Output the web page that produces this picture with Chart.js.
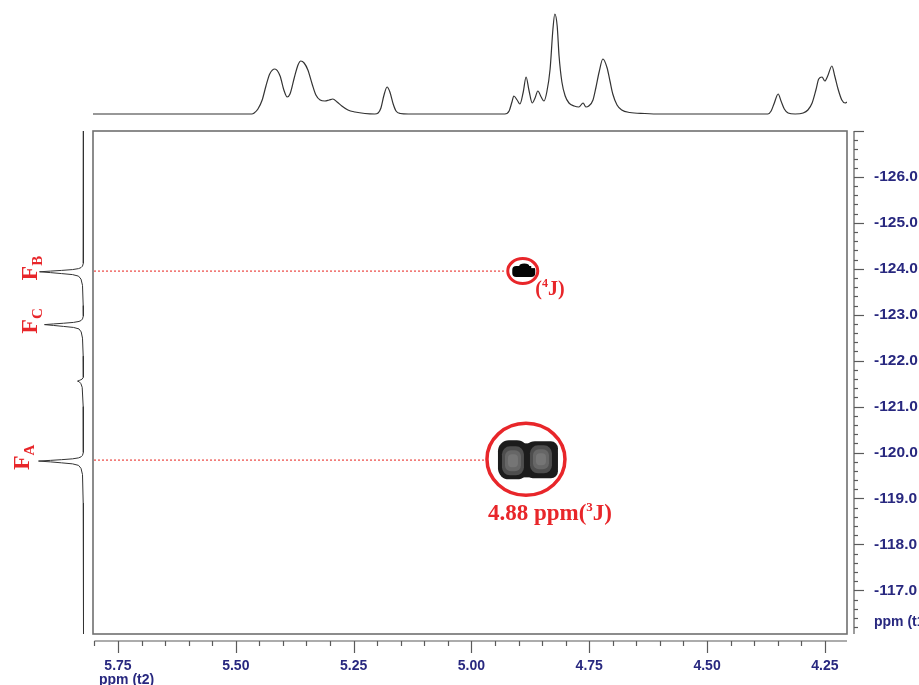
<!DOCTYPE html>
<html>
<head>
<meta charset="utf-8">
<script src="https://cdn.jsdelivr.net/npm/chart.js@4.4.1/dist/chart.umd.min.js"></script>
<style>
  html, body { margin: 0; padding: 0; background: #fff; }
  #wrap { position: relative; width: 919px; height: 685px; overflow: hidden; background: #fff; }
  #wrap canvas { position: absolute; }
  #top  { left: 0; top: 0; width: 919px; height: 131px; }
  #side { left: 0; top: 131px; width: 93px; height: 503px; }
  #main { left: 0; top: 0; width: 919px; height: 685px; }
</style>
</head>
<body>
<div id="wrap">
  <canvas id="top" width="919" height="131"></canvas>
  <canvas id="side" width="93" height="503"></canvas>
  <canvas id="main" width="919" height="685"></canvas>
</div>
<script>
// ---- 1H projection (t2 axis): chemical shift (ppm) and intensity ----
const t2Ppm = [5.803, 5.466, 5.461, 5.453, 5.444, 5.436, 5.428, 5.417, 5.406, 5.398, 5.391, 5.385, 5.376, 5.368,
  5.362, 5.355, 5.347, 5.338, 5.330, 5.321, 5.311, 5.302, 5.294, 5.285, 5.275, 5.262, 5.247, 5.226, 5.205,
  5.198, 5.192, 5.186, 5.179, 5.173, 5.166, 5.160, 5.151, 5.134, 4.929,
  4.920, 4.914, 4.910, 4.903, 4.897, 4.890, 4.884, 4.878, 4.871, 4.865, 4.859, 4.852, 4.846, 4.840, 4.833,
  4.827, 4.823, 4.818, 4.814, 4.808, 4.801, 4.793, 4.782, 4.772, 4.763, 4.757, 4.751, 4.742, 4.736, 4.729,
  4.721, 4.712, 4.706, 4.700, 4.691, 4.681, 4.664, 4.632, 4.600, 4.371,
  4.364, 4.358, 4.349, 4.343, 4.336, 4.328, 4.313, 4.296, 4.286, 4.277, 4.269, 4.263, 4.256, 4.250, 4.244,
  4.235, 4.229, 4.222, 4.214, 4.207, 4.203];
const t2Int = [0, 0, 1, 5, 14, 28, 40, 45, 38, 24, 17, 20, 36, 49,
  53, 51, 44, 30, 19, 14, 13, 14, 15, 12, 8, 4, 2, 0.5, 0,
  1, 6, 18, 27, 22, 10, 3, 0.5, 0, 0,
  3, 12, 18, 14, 10, 22, 37, 24, 11, 16, 23, 17, 13, 22, 45,
  85, 100, 88, 58, 32, 18, 11, 8, 7, 11, 7, 8, 14, 26, 42,
  55, 46, 33, 20, 9, 4, 1.5, 0.5, 0, 0,
  3, 10, 20, 13, 5, 1, 0, 1, 4, 11, 24, 35, 37, 33, 38,
  48, 38, 25, 14, 11, 12];

// ---- 19F projection (t1 axis): chemical shift (ppm) and intensity ----
const t1Ppm = [-127.00,
  -124.26, -124.124, -124.059, -124.026, -124.004, -123.983, -123.965, -123.95, -123.935, -123.917, -123.896, -123.874, -123.841, -123.776, -123.64,
  -123.20, -123.11, -122.974, -122.909, -122.876, -122.854, -122.833, -122.815, -122.80, -122.785, -122.767, -122.746, -122.724, -122.691, -122.626, -122.49,
  -122.10, -121.72, -121.64, -121.60, -121.585, -121.57, -121.555, -121.54, -121.50, -121.42,
  -121.00, -120.14, -120.004, -119.939, -119.906, -119.884, -119.863, -119.845, -119.83, -119.815, -119.797, -119.776, -119.754, -119.721, -119.656, -119.52,
  -118.90, -116.05];
const t1Int = [0,
  0, 0.3, 1, 2.5, 5, 11, 22, 33, 44, 33, 22, 11, 5, 2.5, 1, 0.3,
  0, 0.3, 1, 2.3, 4.5, 10, 20, 30, 39, 30, 20, 10, 4.5, 2.3, 1, 0.3,
  0, 0.3, 1.3, 2.6, 4.2, 6, 4.2, 2.6, 1.3, 0.3,
  0, 0.3, 1, 2.5, 5, 11, 22, 33, 45, 33, 22, 11, 5, 2.5, 1, 0.3,
  0, 0];

// ---- fluorine signals ----
const fNames = ['A', 'B', 'C'];
const fShift = [-119.83, -123.95, -122.80];

// ---- HOESY cross peaks (t2 / t1 in ppm) and their coupling path ----
const crossT2 = [4.88, 4.89];
const crossT1 = [-119.83, -123.95];
const crossBonds = ['3', '4'];

// ---- axis ticks ----
const t2Ticks = [5.75, 5.50, 5.25, 5.00, 4.75, 4.50, 4.25];
const t1Ticks = [-126, -125, -124, -123, -122, -121, -120, -119, -118, -117];

const T2_MIN = 4.203, T2_MAX = 5.803;
const T1_MIN = -127.0, T1_MAX = -116.05;
const T1_UNIT_AT = -116.31;      // where the "ppm (t1)" caption sits on the F1 scale

const NAVY = '#28287f';
const RED = '#e8262a';
const SERIF = '"Liberation Serif", "Times New Roman", serif';
const SANS = '"Liberation Sans", Arial, sans-serif';

const hidden = { display: false };

// ---------- top 1D projection ----------
new Chart(document.getElementById('top'), {
  type: 'scatter',
  data: {
    datasets: [{
      data: t2Ppm.map((p, i) => ({ x: p, y: t2Int[i] })),
      showLine: true, pointRadius: 0, borderColor: '#333333', borderWidth: 1.2,
      cubicInterpolationMode: 'monotone', tension: 0.4
    }]
  },
  options: {
    responsive: false, animation: false, devicePixelRatio: 1,
    layout: { padding: { left: 93, right: 72, top: 0, bottom: 0 } },
    plugins: { legend: hidden, tooltip: { enabled: false } },
    scales: {
      x: { type: 'linear', reverse: true, min: T2_MIN, max: T2_MAX, display: false },
      y: { type: 'linear', min: -17, max: 114, display: false }
    }
  }
});

// ---------- side 1D projection with fluorine labels ----------
function richText(ctx, parts, x, y) {
  let cx = x;
  for (const p of parts) {
    ctx.font = `bold ${p.size}px ${SERIF}`;
    ctx.fillText(p.t, cx, y + (p.dy || 0));
    cx += ctx.measureText(p.t).width;
  }
  return cx - x;
}
function richWidth(ctx, parts) {
  let w = 0;
  for (const p of parts) { ctx.font = `bold ${p.size}px ${SERIF}`; w += ctx.measureText(p.t).width; }
  return w;
}

const fLabelPlugin = {
  id: 'fLabels',
  afterDraw(chart) {
    const ctx = chart.ctx, y = chart.scales.y;
    const baseX = { A: 29, B: 37, C: 37 };
    ctx.save();
    ctx.fillStyle = RED;
    ctx.textBaseline = 'alphabetic';
    fNames.forEach((n, i) => {
      const parts = [{ t: 'F', size: 24 }, { t: n, size: 15, dy: 5 }];
      const w = richWidth(ctx, parts);
      const py = y.getPixelForValue(fShift[i]) - 3;
      ctx.save();
      ctx.translate(baseX[n], py + w / 2);
      ctx.rotate(-Math.PI / 2);
      richText(ctx, parts, 0, 0);
      ctx.restore();
    });
    ctx.restore();
  }
};

new Chart(document.getElementById('side'), {
  type: 'scatter',
  data: {
    datasets: [{
      data: t1Ppm.map((p, i) => ({ x: t1Int[i], y: p })),
      showLine: true, pointRadius: 0, borderColor: '#333333', borderWidth: 1, tension: 0
    }]
  },
  options: {
    responsive: false, animation: false, devicePixelRatio: 1,
    layout: { padding: 0 },
    plugins: { legend: hidden, tooltip: { enabled: false } },
    scales: {
      x: { type: 'linear', reverse: true, min: -9.5, max: 83.5, display: false },
      y: { type: 'linear', reverse: true, min: T1_MIN, max: T1_MAX, display: false }
    }
  },
  plugins: [fLabelPlugin]
});

// ---------- main 2D panel ----------
const framePlugin = {
  id: 'frame',
  afterDraw(chart) {
    const { ctx, chartArea: a, scales: { x, y } } = chart;
    ctx.save();
    // plot box
    ctx.strokeStyle = '#707070';
    ctx.lineWidth = 1.6;
    ctx.strokeRect(a.left, a.top, a.right - a.left, a.bottom - a.top);

    ctx.strokeStyle = '#5a5a5a';
    ctx.lineWidth = 1.2;
    const seg = (x1, y1, x2, y2) => { ctx.beginPath(); ctx.moveTo(x1, y1); ctx.lineTo(x2, y2); ctx.stroke(); };

    // F2 axis with 0.05 ppm minor ticks
    const ay = a.bottom + 7;
    seg(x.getPixelForValue(5.80), ay, a.right, ay);
    for (let k = 580; k >= 425; k -= 5) {
      const px = Math.round(x.getPixelForValue(k / 100)) + 0.5;
      seg(px, ay, px, ay + (k % 25 === 0 ? 12 : 5));
    }
    // F1 axis with 0.2 ppm minor ticks
    const ax = a.right + 7;
    seg(ax, a.top, ax, a.bottom);
    for (let k = -1270; k <= -1162; k += 2) {
      const py = Math.round(y.getPixelForValue(k / 10)) + 0.5;
      seg(ax, py, ax + (k % 10 === 0 ? 10 : 4), py);
    }
    // F2 axis caption
    ctx.fillStyle = NAVY;
    ctx.font = `bold 14px ${SANS}`;
    ctx.textBaseline = 'middle';
    ctx.textAlign = 'left';
    ctx.fillText('ppm (t2)', x.getPixelForValue(5.75) - 19, 680);
    ctx.restore();
  }
};

function bigPeak(ctx, cx, cy) {
  ctx.fillStyle = '#1c1c1c';
  ctx.beginPath(); ctx.roundRect(cx - 30, cy - 20, 30, 39, 11); ctx.fill();
  ctx.beginPath(); ctx.roundRect(cx - 4, cy - 19, 34, 37, [11, 7, 7, 11]); ctx.fill();
  ctx.fillRect(cx - 8, cy - 17, 12, 34);
  // lighter inner lobes
  ctx.fillStyle = '#4e4e4e';
  ctx.beginPath(); ctx.roundRect(cx - 26, cy - 14, 22, 29, 8); ctx.fill();
  ctx.beginPath(); ctx.roundRect(cx + 2, cy - 15, 22, 28, 8); ctx.fill();
  ctx.fillStyle = '#666666';
  ctx.beginPath(); ctx.roundRect(cx - 23, cy - 10, 16, 21, 6); ctx.fill();
  ctx.beginPath(); ctx.roundRect(cx + 5, cy - 11, 16, 20, 6); ctx.fill();
  ctx.fillStyle = '#757575';
  ctx.beginPath(); ctx.roundRect(cx - 20, cy - 6, 10, 13, 4); ctx.fill();
  ctx.beginPath(); ctx.roundRect(cx + 8, cy - 7, 10, 12, 4); ctx.fill();
}
function smallPeak(ctx, cx, cy) {
  ctx.fillStyle = '#050505';
  ctx.beginPath(); ctx.roundRect(cx - 11, cy - 5, 23, 11, 4); ctx.fill();
  ctx.beginPath(); ctx.ellipse(cx + 1, cy - 5, 5, 2.5, 0, 0, Math.PI * 2); ctx.fill();
  ctx.fillStyle = '#ffffff';
  ctx.fillRect(cx + 8, cy - 6, 5, 3);
}

const crossPeakPlugin = {
  id: 'crossPeaks',
  afterDatasetsDraw(chart) {
    const { ctx, chartArea: a, scales: { x, y } } = chart;
    const ring = [{ dx: -2, dy: -1, rx: 39, ry: 36, lw: 3.5 }, { dx: -0.5, dy: 0, rx: 15, ry: 12.5, lw: 3 }];
    ctx.save();
    crossT2.forEach((t2, i) => {
      const cx = x.getPixelForValue(t2), cy = y.getPixelForValue(crossT1[i]);
      const r = ring[i];
      // dotted guide from the F1 projection, pixel-aligned red dashes
      ctx.fillStyle = '#ec4540';
      const gy = Math.round(cy) - 0.5;
      const end = cx + r.dx - r.rx;
      for (let gx = Math.ceil(a.left) + 1; gx + 2 <= end; gx += 4) ctx.fillRect(gx, gy, 2, 1.2);
      if (i === 0) bigPeak(ctx, cx, cy); else smallPeak(ctx, cx, cy);
      ctx.strokeStyle = RED;
      ctx.lineWidth = r.lw;
      ctx.beginPath();
      ctx.ellipse(cx + r.dx, cy + r.dy, r.rx, r.ry, 0, 0, Math.PI * 2);
      ctx.stroke();
    });
    // annotations
    ctx.fillStyle = RED;
    ctx.textBaseline = 'alphabetic';
    const c0x = x.getPixelForValue(crossT2[0]), c0y = y.getPixelForValue(crossT1[0]);
    richText(ctx, [
      { t: crossT2[0].toFixed(2) + ' ppm(', size: 23 },
      { t: crossBonds[0], size: 13, dy: -9 },
      { t: 'J)', size: 23 }
    ], c0x - 40, c0y + 60);
    const c1x = x.getPixelForValue(crossT2[1]), c1y = y.getPixelForValue(crossT1[1]);
    richText(ctx, [
      { t: '(', size: 20 },
      { t: crossBonds[1], size: 12, dy: -8 },
      { t: 'J)', size: 20 }
    ], c1x + 12, c1y + 24);
    ctx.restore();
  }
};

new Chart(document.getElementById('main'), {
  type: 'scatter',
  data: {
    datasets: [{
      data: crossT2.map((v, i) => ({ x: v, y: crossT1[i] })),
      pointRadius: 0
    }]
  },
  options: {
    responsive: false, animation: false, devicePixelRatio: 1,
    layout: { padding: { left: 93, top: 131, right: 0, bottom: 0 } },
    plugins: { legend: hidden, tooltip: { enabled: false } },
    scales: {
      x: {
        type: 'linear', position: 'bottom', reverse: true, min: T2_MIN, max: T2_MAX,
        afterBuildTicks: s => { s.ticks = t2Ticks.map(v => ({ value: v })); },
        afterFit: s => { s.height = 51; },
        grid: { display: false, drawTicks: false }, border: { display: false },
        ticks: {
          padding: 24, color: NAVY, autoSkip: false, maxRotation: 0,
          font: { family: SANS, weight: 'bold', size: 14 },
          callback: v => Number(v).toFixed(2)
        }
      },
      y: {
        type: 'linear', position: 'right', reverse: true, min: T1_MIN, max: T1_MAX,
        afterBuildTicks: s => { s.ticks = t1Ticks.map(v => ({ value: v })).concat([{ value: T1_UNIT_AT }]); },
        afterFit: s => { s.width = 72; },
        grid: { display: false, drawTicks: false }, border: { display: false },
        ticks: {
          padding: 27, color: NAVY, autoSkip: false,
          font: c => ({ family: SANS, weight: 'bold', size: (c.tick && c.tick.value === T1_UNIT_AT) ? 14 : 15.5 }),
          callback: v => (v === T1_UNIT_AT ? 'ppm (t1)' : Number(v).toFixed(1))
        }
      }
    }
  },
  plugins: [framePlugin, crossPeakPlugin]
});
</script>
</body>
</html>
